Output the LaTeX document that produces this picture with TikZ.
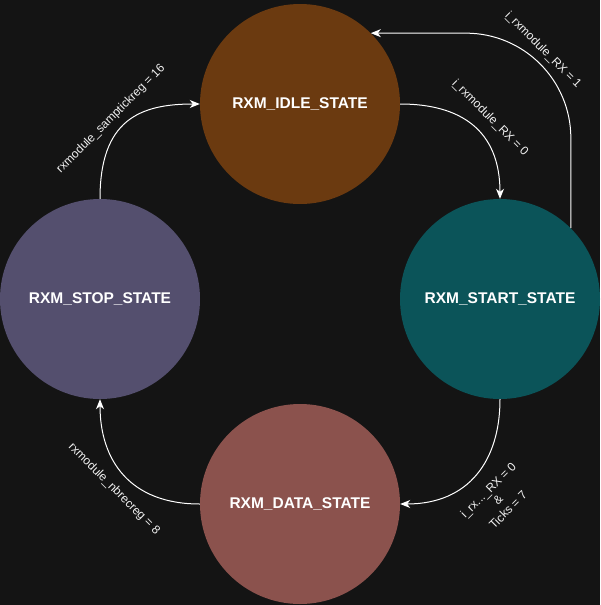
\documentclass[tikz,border=0pt]{standalone}
\usepackage{fontspec}
\setmainfont{Liberation Sans}
\usetikzlibrary{arrows.meta}
\definecolor{bg}{HTML}{141414}
\definecolor{cidle}{HTML}{6B3A10}
\definecolor{cstart}{HTML}{0B5459}
\definecolor{cstop}{HTML}{544F6E}
\definecolor{cdata}{HTML}{8B524D}
\definecolor{txt}{HTML}{F0F0F0}
\tikzset{
  state/.style={circle, minimum size=200pt, inner sep=0pt, draw=none, text=white,
    font=\fontsize{15.5}{18}\selectfont\bfseries},
  conn/.style={draw=white, line width=1pt, -{Stealth[length=10pt,width=8pt,inset=3pt]}},
  lbl/.style={text=txt, font=\fontsize{12}{14}\selectfont, inner sep=1pt, align=center}
}
\begin{document}
\begin{tikzpicture}[x=1pt,y=-1pt]
\fill[bg] (0,0) rectangle (600,605);
\useasboundingbox (0,0) rectangle (600,605);
\node[state, fill=cidle] (idle) at (300,104) {RXM\_IDLE\_STATE};
\node[state, fill=cstart] (start) at (500,299) {RXM\_START\_STATE};
\node[state, fill=cstop] (stop) at (100,299) {RXM\_STOP\_STATE};
\node[state, fill=cdata] (data) at (300,504) {RXM\_DATA\_STATE};

\draw[conn] (idle.east) .. controls +(60,0) and +(0,-69) .. (start.north);
\draw[conn, rounded corners=105pt] (start.45) |- (idle.45);
\draw[conn] (start.south) .. controls +(0,61) and +(69,0) .. (data.east);
\draw[conn] (data.west) .. controls +(-70,0) and +(0,61) .. (stop.south);
\draw[conn] (stop.north) .. controls +(0,-79) and +(-60,0) .. (idle.west);

\node[lbl, rotate=45] (l1) at (111,119) {rxmodule\_samptickreg = 16};
\node[lbl, rotate=-45] (l2) at (543,50) {i\_rxmodule\_RX = 1};
\node[lbl, rotate=-45] (l3) at (490,118) {i\_rxmodule\_RX = 0};
\node[lbl, rotate=45] (l4) at (498,500) {i\_rx...\_RX = 0\\\&\\Ticks = 7};
\node[lbl, rotate=-45] (l5) at (114,489) {rxmodule\_nbrecreg = 8};
\end{tikzpicture}
\end{document}
